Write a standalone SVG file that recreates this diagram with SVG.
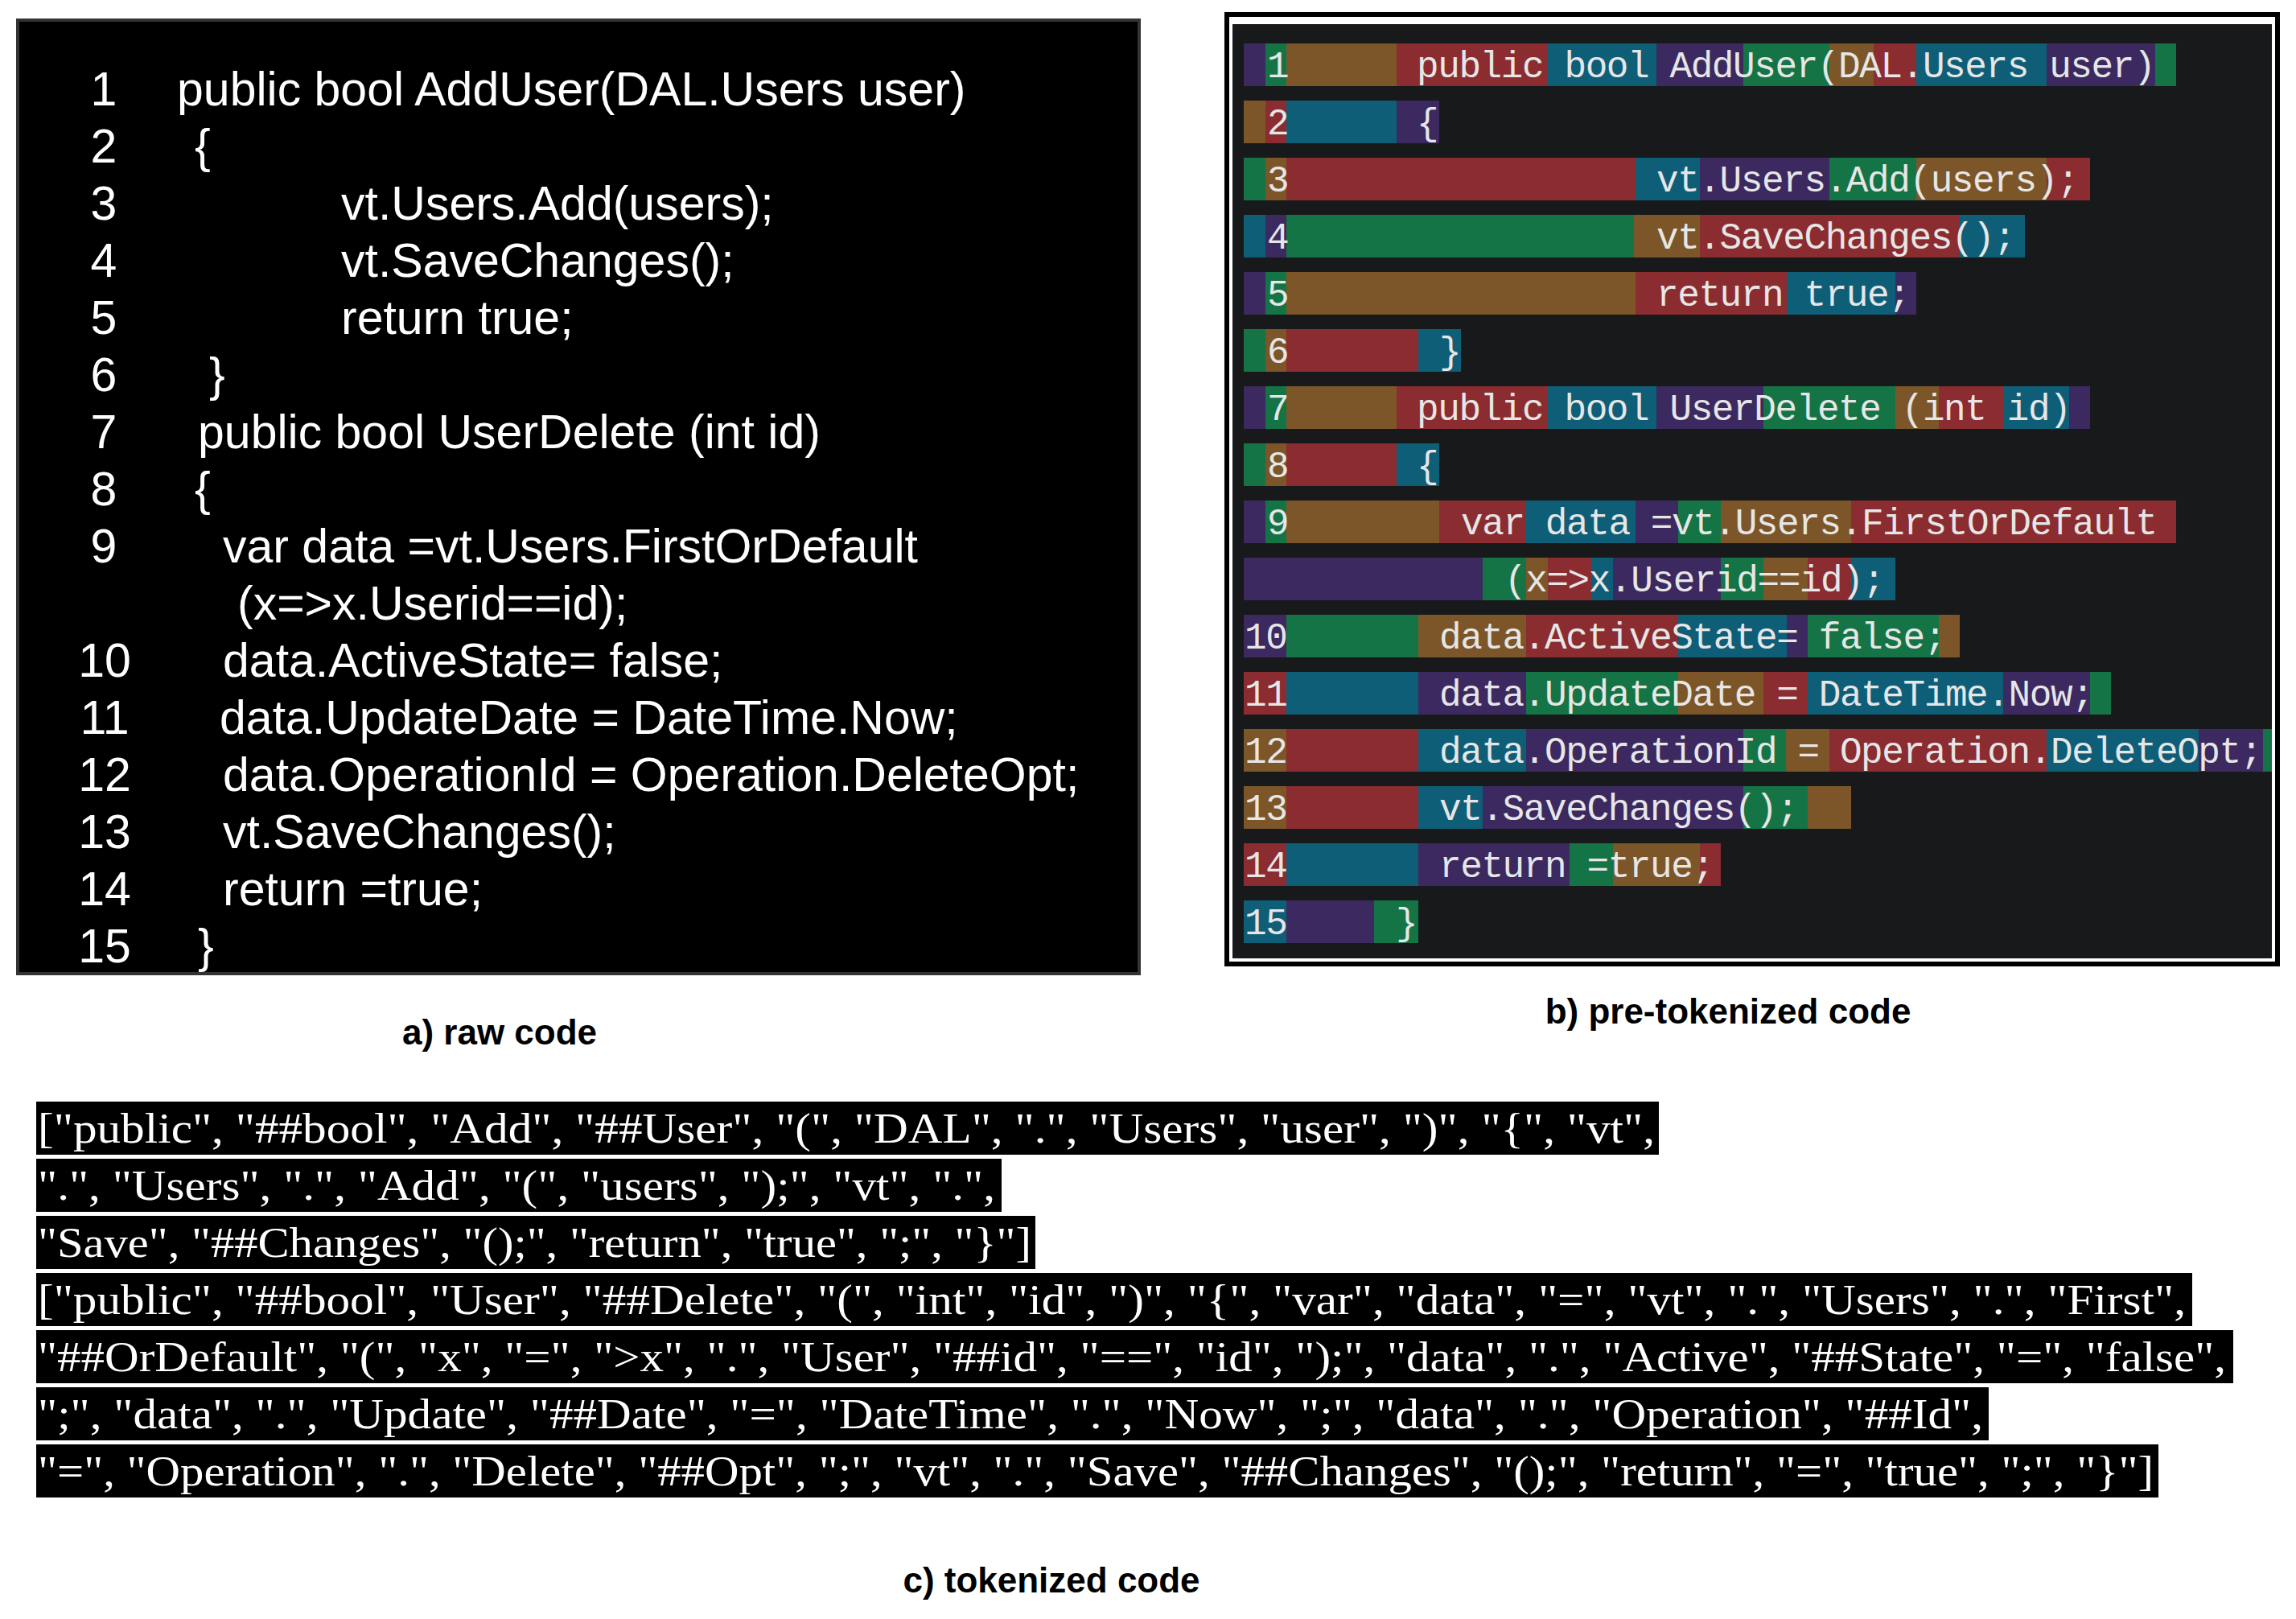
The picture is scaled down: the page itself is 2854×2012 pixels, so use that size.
<svg xmlns="http://www.w3.org/2000/svg" width="2854" height="2012" viewBox="0 0 2854 2012">
<style>
.a{font-family:"Liberation Sans",Arial,sans-serif;font-size:59px;fill:#fff}
.n{text-anchor:middle}
.m{font-family:"Liberation Mono","DejaVu Sans Mono",monospace;font-size:46px;letter-spacing:-1.4px;fill:#e6e6e6}
.c{font-family:"Liberation Serif","Times New Roman",serif;font-size:52px;fill:#fff}
.cap{font-family:"Liberation Sans",Arial,sans-serif;font-size:44px;font-weight:bold;fill:#000;text-anchor:middle}
.P{fill:#3b2960}.G{fill:#147445}.B{fill:#7c5628}.R{fill:#8b2c30}.T{fill:#0e5e78}
</style>
<rect width="2854" height="2012" fill="#fff"/>
<g id="panel-a">
<rect x="22" y="25" width="1394" height="1185" fill="#000" stroke="#333" stroke-width="4"/>
<g class="a n">
<text x="129" y="131">1</text><text x="129" y="202">2</text><text x="129" y="273">3</text><text x="129" y="344">4</text><text x="129" y="415">5</text><text x="129" y="486">6</text><text x="129" y="557">7</text><text x="129" y="628">8</text><text x="129" y="699">9</text><text x="130" y="841">10</text><text x="130" y="912">11</text><text x="130" y="983">12</text><text x="130" y="1054">13</text><text x="130" y="1125">14</text><text x="130" y="1196">15</text>
</g>
<g class="a">
<text x="220" y="131">public bool AddUser(DAL.Users user)</text>
<text x="242" y="202">{</text>
<text x="424" y="273">vt.Users.Add(users);</text>
<text x="424" y="344">vt.SaveChanges();</text>
<text x="424" y="415">return true;</text>
<text x="260" y="486">}</text>
<text x="246" y="557">public bool UserDelete (int id)</text>
<text x="242" y="628">{</text>
<text x="277" y="699">var data =vt.Users.FirstOrDefault</text>
<text x="295" y="770">(x=&gt;x.Userid==id);</text>
<text x="277" y="841">data.ActiveState= false;</text>
<text x="273" y="912">data.UpdateDate = DateTime.Now;</text>
<text x="277" y="983">data.OperationId = Operation.DeleteOpt;</text>
<text x="277" y="1054">vt.SaveChanges();</text>
<text x="277" y="1125">return =true;</text>
<text x="246" y="1196">}</text>
</g>
</g>
<g id="panel-b">
<rect x="1522" y="15" width="1312" height="1186" fill="#000"/>
<rect x="1528" y="21" width="1300" height="1174" fill="#fff"/>
<rect x="1532" y="30" width="1292" height="1161" fill="#18191b"/>
<g id="row1"><rect class="P" x="1546" y="54" width="27" height="53"/><rect class="G" x="1573" y="54" width="26" height="53"/><rect class="B" x="1599" y="54" width="137" height="53"/><rect class="R" x="1736" y="54" width="187" height="53"/><rect class="T" x="1923" y="54" width="136" height="53"/><rect class="P" x="2059" y="54" width="108" height="53"/><rect class="G" x="2167" y="54" width="107" height="53"/><rect class="B" x="2274" y="54" width="55" height="53"/><rect class="R" x="2329" y="54" width="53" height="53"/><rect class="T" x="2382" y="54" width="162" height="53"/><rect class="P" x="2544" y="54" width="135" height="53"/><rect class="G" x="2679" y="54" width="26" height="53"/></g>
<g id="row2"><rect class="B" x="1546" y="125" width="27" height="53"/><rect class="R" x="1573" y="125" width="26" height="53"/><rect class="T" x="1599" y="125" width="137" height="53"/><rect class="P" x="1736" y="125" width="53" height="53"/></g>
<g id="row3"><rect class="G" x="1546" y="196" width="27" height="53"/><rect class="B" x="1573" y="196" width="26" height="53"/><rect class="R" x="1599" y="196" width="434" height="53"/><rect class="T" x="2033" y="196" width="80" height="53"/><rect class="P" x="2113" y="196" width="161" height="53"/><rect class="G" x="2274" y="196" width="108" height="53"/><rect class="B" x="2382" y="196" width="162" height="53"/><rect class="R" x="2544" y="196" width="54" height="53"/></g>
<g id="row4"><rect class="T" x="1546" y="267" width="27" height="53"/><rect class="P" x="1573" y="267" width="26" height="53"/><rect class="G" x="1599" y="267" width="432" height="53"/><rect class="B" x="2031" y="267" width="82" height="53"/><rect class="R" x="2113" y="267" width="323" height="53"/><rect class="T" x="2436" y="267" width="81" height="53"/></g>
<g id="row5"><rect class="P" x="1546" y="338" width="27" height="53"/><rect class="G" x="1573" y="338" width="26" height="53"/><rect class="B" x="1599" y="338" width="434" height="53"/><rect class="R" x="2033" y="338" width="188" height="53"/><rect class="T" x="2221" y="338" width="135" height="53"/><rect class="P" x="2356" y="338" width="26" height="53"/></g>
<g id="row6"><rect class="G" x="1546" y="409" width="27" height="53"/><rect class="B" x="1573" y="409" width="26" height="53"/><rect class="R" x="1599" y="409" width="164" height="53"/><rect class="T" x="1763" y="409" width="53" height="53"/></g>
<g id="row7"><rect class="P" x="1546" y="480" width="27" height="53"/><rect class="G" x="1573" y="480" width="26" height="53"/><rect class="B" x="1599" y="480" width="137" height="53"/><rect class="R" x="1736" y="480" width="187" height="53"/><rect class="T" x="1923" y="480" width="136" height="53"/><rect class="P" x="2059" y="480" width="133" height="53"/><rect class="G" x="2192" y="480" width="164" height="53"/><rect class="B" x="2356" y="480" width="54" height="53"/><rect class="R" x="2410" y="480" width="80" height="53"/><rect class="T" x="2490" y="480" width="82" height="53"/><rect class="P" x="2572" y="480" width="26" height="53"/></g>
<g id="row8"><rect class="G" x="1546" y="551" width="27" height="53"/><rect class="B" x="1573" y="551" width="26" height="53"/><rect class="R" x="1599" y="551" width="137" height="53"/><rect class="T" x="1736" y="551" width="53" height="53"/></g>
<g id="row9"><rect class="P" x="1546" y="622" width="27" height="53"/><rect class="G" x="1573" y="622" width="26" height="53"/><rect class="B" x="1599" y="622" width="190" height="53"/><rect class="R" x="1789" y="622" width="108" height="53"/><rect class="T" x="1897" y="622" width="136" height="53"/><rect class="P" x="2033" y="622" width="53" height="53"/><rect class="G" x="2086" y="622" width="53" height="53"/><rect class="B" x="2139" y="622" width="162" height="53"/><rect class="R" x="2301" y="622" width="404" height="53"/></g>
<g id="row9b"><rect class="P" x="1546" y="693" width="297" height="53"/><rect class="G" x="1843" y="693" width="54" height="53"/><rect class="B" x="1897" y="693" width="27" height="53"/><rect class="R" x="1924" y="693" width="55" height="53"/><rect class="T" x="1979" y="693" width="26" height="53"/><rect class="P" x="2005" y="693" width="134" height="53"/><rect class="G" x="2139" y="693" width="53" height="53"/><rect class="B" x="2192" y="693" width="55" height="53"/><rect class="R" x="2247" y="693" width="54" height="53"/><rect class="T" x="2301" y="693" width="55" height="53"/></g>
<g id="row10"><rect class="P" x="1546" y="764" width="53" height="53"/><rect class="G" x="1599" y="764" width="164" height="53"/><rect class="B" x="1763" y="764" width="134" height="53"/><rect class="R" x="1897" y="764" width="189" height="53"/><rect class="T" x="2086" y="764" width="135" height="53"/><rect class="P" x="2221" y="764" width="26" height="53"/><rect class="G" x="2247" y="764" width="163" height="53"/><rect class="B" x="2410" y="764" width="26" height="53"/></g>
<g id="row11"><rect class="R" x="1546" y="835" width="53" height="53"/><rect class="T" x="1599" y="835" width="164" height="53"/><rect class="P" x="1763" y="835" width="134" height="53"/><rect class="G" x="1897" y="835" width="189" height="53"/><rect class="B" x="2086" y="835" width="106" height="53"/><rect class="R" x="2192" y="835" width="55" height="53"/><rect class="T" x="2247" y="835" width="243" height="53"/><rect class="P" x="2490" y="835" width="108" height="53"/><rect class="G" x="2598" y="835" width="26" height="53"/></g>
<g id="row12"><rect class="B" x="1546" y="906" width="53" height="53"/><rect class="R" x="1599" y="906" width="164" height="53"/><rect class="T" x="1763" y="906" width="134" height="53"/><rect class="P" x="1897" y="906" width="270" height="53"/><rect class="G" x="2167" y="906" width="53" height="53"/><rect class="B" x="2220" y="906" width="54" height="53"/><rect class="R" x="2274" y="906" width="270" height="53"/><rect class="T" x="2544" y="906" width="189" height="53"/><rect class="P" x="2733" y="906" width="80" height="53"/><rect class="G" x="2813" y="906" width="11" height="53"/></g>
<g id="row13"><rect class="B" x="1546" y="977" width="53" height="53"/><rect class="R" x="1599" y="977" width="164" height="53"/><rect class="T" x="1763" y="977" width="80" height="53"/><rect class="P" x="1843" y="977" width="324" height="53"/><rect class="G" x="2167" y="977" width="80" height="53"/><rect class="B" x="2247" y="977" width="54" height="53"/></g>
<g id="row14"><rect class="R" x="1546" y="1048" width="53" height="53"/><rect class="T" x="1599" y="1048" width="164" height="53"/><rect class="P" x="1763" y="1048" width="188" height="53"/><rect class="G" x="1951" y="1048" width="54" height="53"/><rect class="B" x="2005" y="1048" width="108" height="53"/><rect class="R" x="2113" y="1048" width="26" height="53"/></g>
<g id="row15"><rect class="T" x="1546" y="1119" width="53" height="53"/><rect class="P" x="1599" y="1119" width="109" height="53"/><rect class="G" x="1708" y="1119" width="55" height="53"/></g>
<g class="m" xml:space="preserve">
<text x="1575" y="96">1</text><text x="1575" y="167">2</text><text x="1575" y="238">3</text><text x="1575" y="309">4</text><text x="1575" y="380">5</text><text x="1575" y="451">6</text><text x="1575" y="522">7</text><text x="1575" y="593">8</text><text x="1575" y="664">9</text><text x="1547" y="806">10</text><text x="1547" y="877">11</text><text x="1547" y="948">12</text><text x="1547" y="1019">13</text><text x="1547" y="1090">14</text><text x="1547" y="1161">15</text>
<text x="1761" y="96">public bool AddUser(DAL.Users user)</text>
<text x="1761" y="167">{</text>
<text x="2059" y="238">vt.Users.Add(users);</text>
<text x="2059" y="309">vt.SaveChanges();</text>
<text x="2059" y="380">return true;</text>
<text x="1789" y="451">}</text>
<text x="1761" y="522">public bool UserDelete (int id)</text>
<text x="1761" y="593">{</text>
<text x="1816" y="664">var data =vt.Users.FirstOrDefault</text>
<text x="1870" y="735">(x=&gt;x.Userid==id);</text>
<text x="1789" y="806">data.ActiveState= false;</text>
<text x="1789" y="877">data.UpdateDate = DateTime.Now;</text>
<text x="1789" y="948">data.OperationId = Operation.DeleteOpt;</text>
<text x="1789" y="1019">vt.SaveChanges();</text>
<text x="1789" y="1090">return =true;</text>
<text x="1735" y="1161">}</text>
</g>
</g>
<g id="panel-c">
<rect x="45" y="1369" width="2017" height="66" fill="#000"/>
<rect x="45" y="1440" width="1200" height="66" fill="#000"/>
<rect x="45" y="1511" width="1242" height="66" fill="#000"/>
<rect x="45" y="1582" width="2680" height="66" fill="#000"/>
<rect x="45" y="1653" width="2731" height="66" fill="#000"/>
<rect x="45" y="1724" width="2427" height="66" fill="#000"/>
<rect x="45" y="1795" width="2638" height="66" fill="#000"/>
<g class="c">
<text x="47" y="1420" textLength="2010" lengthAdjust="spacingAndGlyphs">["public", "##bool", "Add", "##User", "(", "DAL", ".", "Users", "user", ")", "{", "vt",</text>
<text x="47" y="1491" textLength="1190" lengthAdjust="spacingAndGlyphs">".", "Users", ".", "Add", "(", "users", ");", "vt", ".",</text>
<text x="47" y="1562" textLength="1235" lengthAdjust="spacingAndGlyphs">"Save", "##Changes", "();", "return", "true", ";", "}"]</text>
<text x="47" y="1633" textLength="2670" lengthAdjust="spacingAndGlyphs">["public", "##bool", "User", "##Delete", "(", "int", "id", ")", "{", "var", "data", "=", "vt", ".", "Users", ".", "First",</text>
<text x="47" y="1704" textLength="2720" lengthAdjust="spacingAndGlyphs">"##OrDefault", "(", "x", "=", "&gt;x", ".", "User", "##id", "==", "id", ");", "data", ".", "Active", "##State", "=", "false",</text>
<text x="47" y="1775" textLength="2418" lengthAdjust="spacingAndGlyphs">";", "data", ".", "Update", "##Date", "=", "DateTime", ".", "Now", ";", "data", ".", "Operation", "##Id",</text>
<text x="47" y="1846" textLength="2630" lengthAdjust="spacingAndGlyphs">"=", "Operation", ".", "Delete", "##Opt", ";", "vt", ".", "Save", "##Changes", "();", "return", "=", "true", ";", "}"]</text>
</g>
</g>
<g id="captions">
<text class="cap" x="621" y="1298">a) raw code</text>
<text class="cap" x="2148" y="1272">b) pre-tokenized code</text>
<text class="cap" x="1307" y="1979">c) tokenized code</text>
</g>
</svg>
